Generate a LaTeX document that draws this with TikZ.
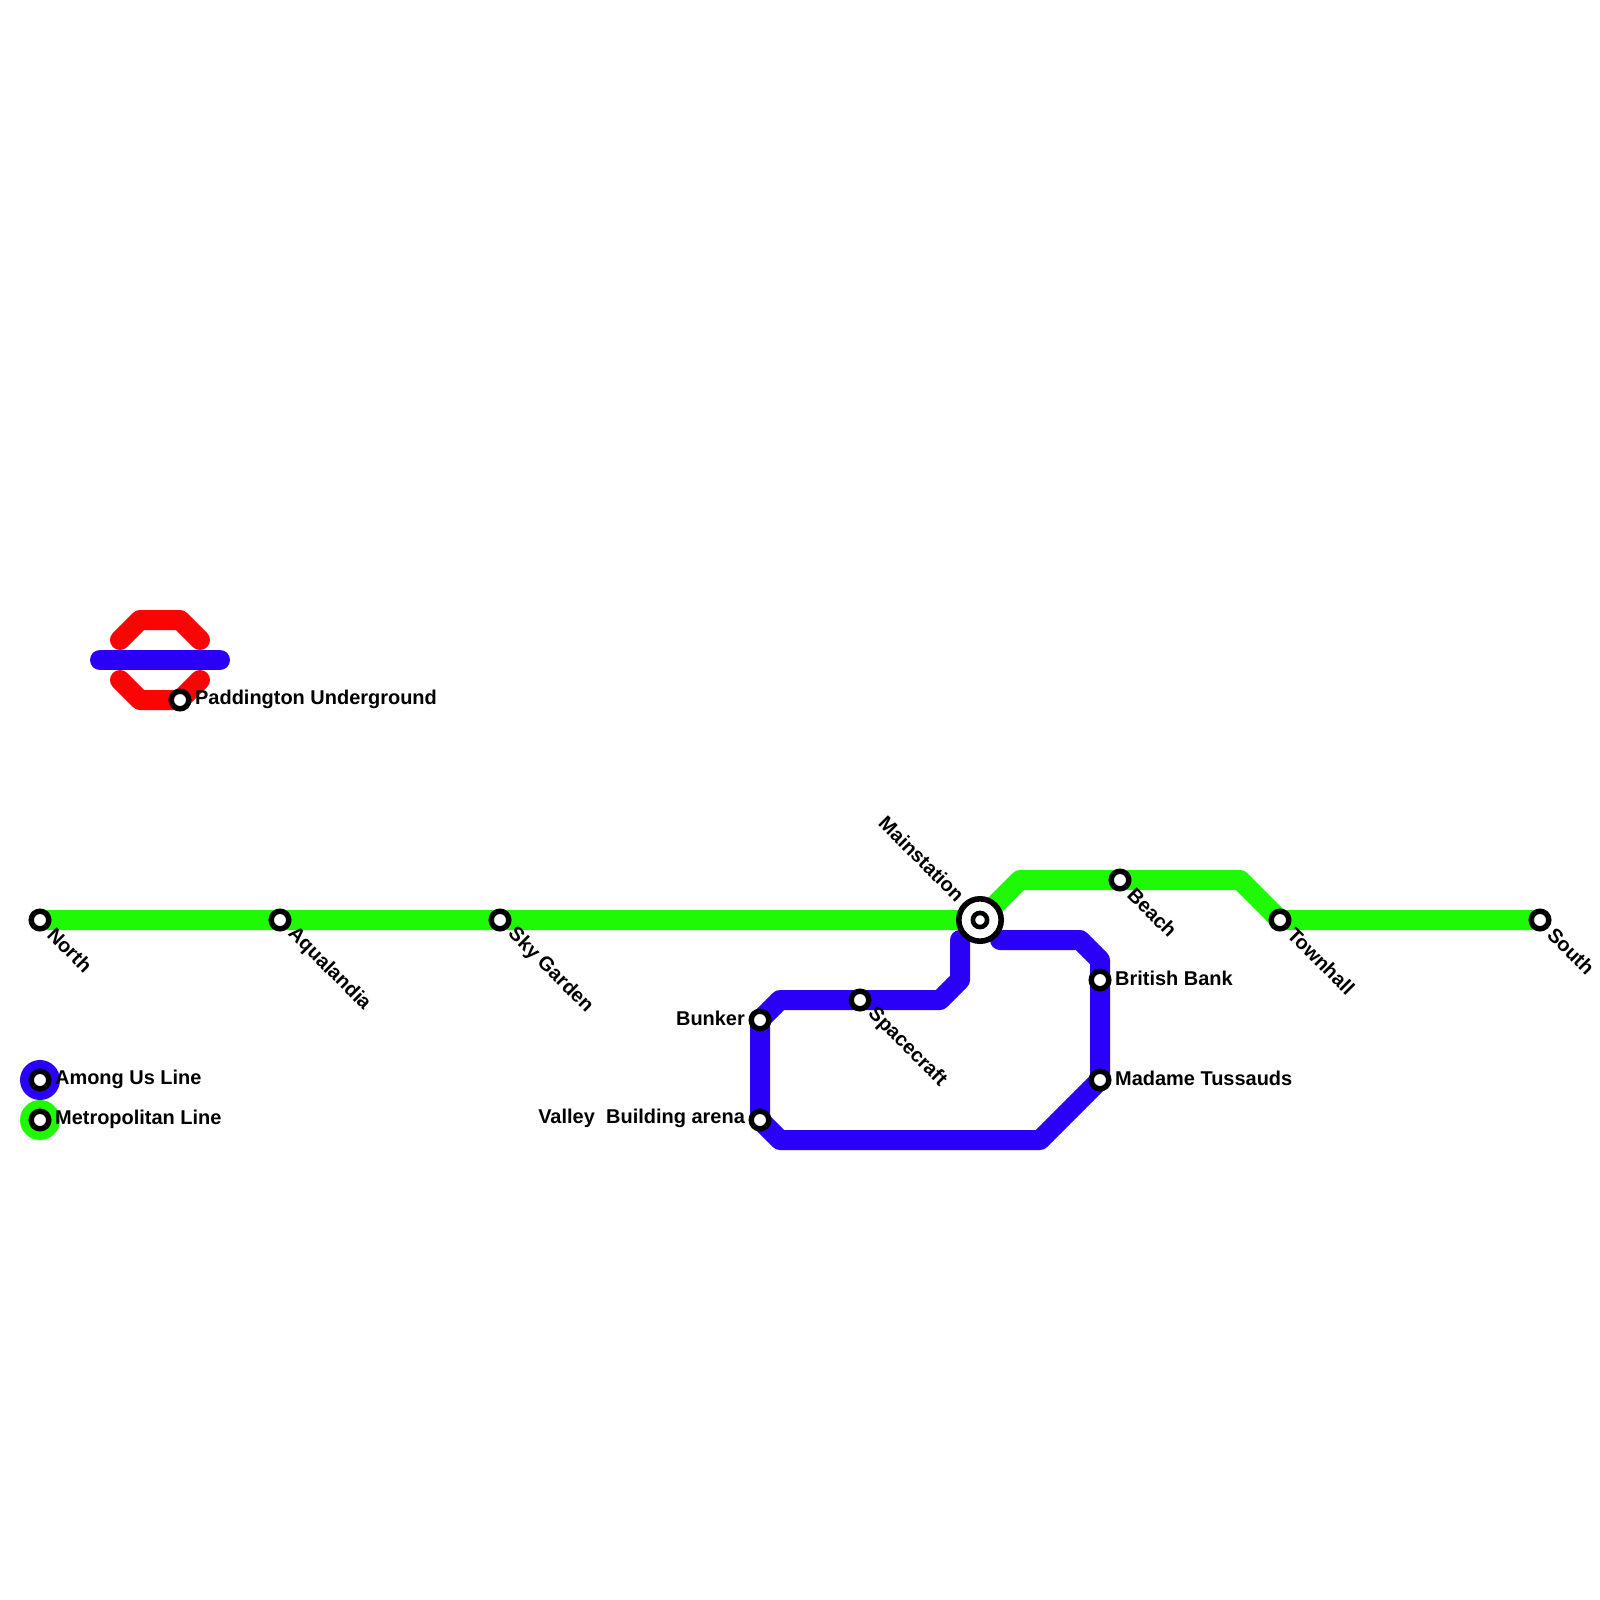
\documentclass[tikz,border=0pt]{standalone}
\usepackage{fontspec}
\setmainfont{Liberation Sans}
\usepackage{xcolor}
\usetikzlibrary{positioning}

\definecolor{linegreen}{HTML}{20F906}
\definecolor{lineblue}{HTML}{2B00F7}
\definecolor{linered}{HTML}{F90505}

\tikzset{
    railline/.style={line width=1cm, line cap=round, line join=round},
    station/.style={circle, draw=black, fill=white, line width=0.27cm, minimum size=0.88cm, inner sep=0pt, outer sep=0pt},
    hub/.style={circle, draw=black, fill=white, line width=0.28cm, minimum size=2.12cm, inner sep=0pt, outer sep=0pt},
    hubcore/.style={circle, draw=black, fill=white, line width=0.23cm, minimum size=0.71cm, inner sep=0pt, outer sep=0pt},
    keydot/.style={circle, minimum size=2cm, inner sep=0pt, outer sep=0pt},
    lbl/.style={font=\fontsize{28.4}{30}\selectfont\bfseries, inner sep=0pt},
    lblright/.style={lbl, anchor=west},
    lblleft/.style={lbl, anchor=east},
    lbldown/.style={lbl, anchor=west, rotate=-45}
}

\begin{document}
\begin{tikzpicture}[x=1cm, y=-1cm]
    \useasboundingbox (0,0) rectangle (80,80);

    % Stations on the lines
    \coordinate (north) at (2,46);
    \coordinate (aqua) at (14,46);
    \coordinate (sky) at (25,46);
    \coordinate (main) at (49,46);
    \coordinate (beach) at (56,44);
    \coordinate (town) at (64,46);
    \coordinate (south) at (77,46);
    \coordinate (bunker) at (38,51);
    \coordinate (arena) at (38,56);
    \coordinate (space) at (43,50);
    \coordinate (bank) at (55,49);
    \coordinate (madame) at (55,54);
    \coordinate (padd) at (9,35);

    % Logo
    \draw[railline, linered] (6,32) -- (7,31) -- (9,31) -- (10,32);
    \draw[railline, linered] (6,34) -- (7,35) -- (padd) -- (10,34);
    \draw[railline, lineblue] (5,33) -- (11,33);

    % Lines
    \draw[railline, linegreen] (north) -- (aqua) -- (sky) -- (main) -- (51,44) -- (beach) -- (62,44) -- (town) -- (south);
    \draw[railline, lineblue] (48,47) -- (48,49) -- (47,50) -- (space) -- (39,50) -- (bunker) -- (arena)
        -- (39,57) -- (52,57) -- (madame) -- (bank) -- (55,48) -- (54,47) -- (50,47);

    % Key
    \node[keydot, fill=lineblue] (keyblue) at (2,54) {};
    \node[keydot, fill=linegreen] (keygreen) at (2,56) {};
    \node[station] (keyblues) at (keyblue) {};
    \node[station] (keygreens) at (keygreen) {};
    \node[lblright] (keybluel) at (2.75,53.97) {Among Us Line};
    \node[lblright] (keygreenl) at (2.75,55.97) {Metropolitan Line};

    % Station markers
    \foreach \s in {north,aqua,sky,beach,town,south,bunker,arena,space,bank,madame,padd}
        \node[station] (\s st) at (\s) {};
    \node[hub] (mainst) at (main) {};
    \node[hubcore] (maincore) at (main) {};

    % Names
    \node[lbldown] (northl) at (2.55,46.55) {North};
    \node[lbldown] (aqual) at (14.55,46.55) {Aqualandia};
    \node[lbldown] (skyl) at (25.55,46.55) {Sky Garden};
    \node[lbldown] (spacel) at (43.55,50.55) {Spacecraft};
    \node[lbldown] (beachl) at (56.55,44.55) {Beach};
    \node[lbldown] (townl) at (64.55,46.55) {Townhall};
    \node[lbldown] (southl) at (77.55,46.55) {South};
    \node[lbl, anchor=east, rotate=-45] (mainl) at (48.05,44.9) {Mainstation};
    \node[lblright] (bankl) at (55.75,48.92) {British Bank};
    \node[lblright] (madamel) at (55.75,53.92) {Madame Tussauds};
    \node[lblright] (paddl) at (9.75,34.97) {Paddington Underground};
    \node[lblleft] (bunkerl) at (37.25,50.92) {Bunker};
    \node[lblleft] (arenal) at (37.25,55.92) {Building arena};
    \node[lblleft] (valleyl) at (29.75,55.92) {Valley};
\end{tikzpicture}
\end{document}
